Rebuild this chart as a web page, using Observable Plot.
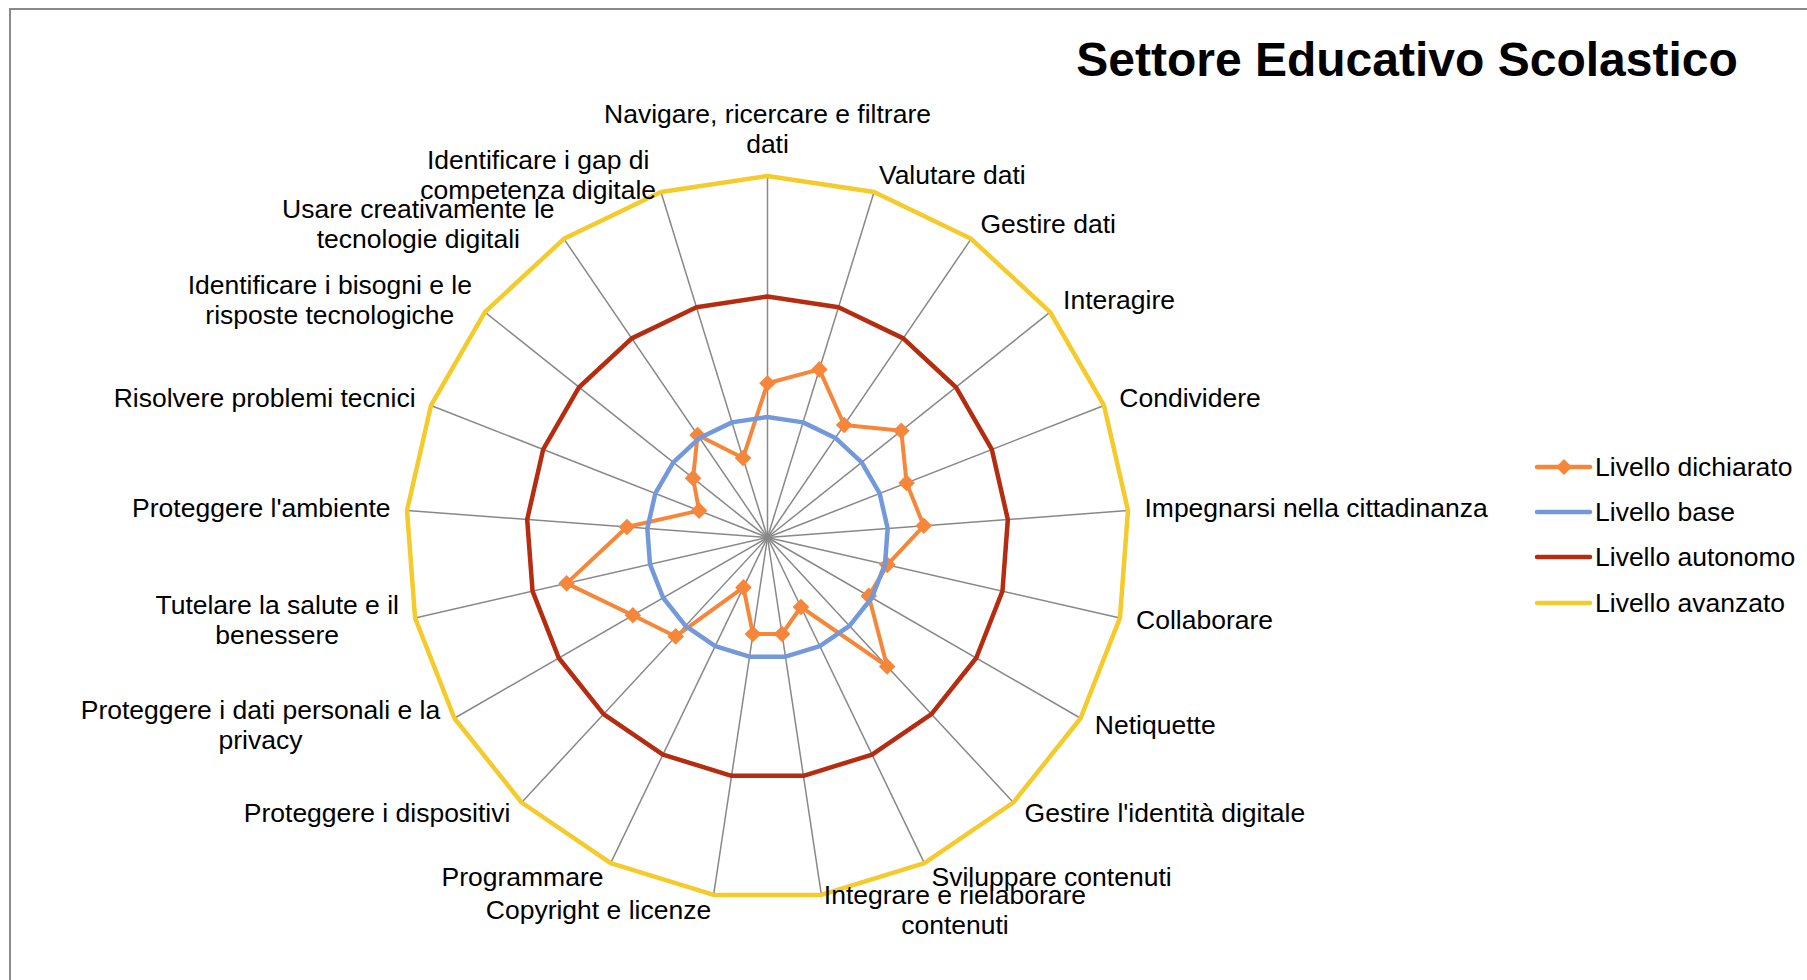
<!DOCTYPE html>
<html>
<head>
<meta charset="utf-8">
<script src="https://cdn.jsdelivr.net/npm/d3@7"></script>
<script src="https://cdn.jsdelivr.net/npm/@observablehq/plot@0.6"></script>
<style>
html, body { margin: 0; padding: 0; background: #fff; }
#wrap { position: relative; width: 1807px; height: 980px; overflow: hidden; font-family: "Liberation Sans", Arial, sans-serif; }
#frame { position: absolute; left: 9px; top: 8px; width: 2000px; height: 1200px; border-top: 2px solid #8a8a8a; border-left: 2px solid #8a8a8a; box-sizing: border-box; }
#chart { position: absolute; left: 0; top: 0; }
#title { position: absolute; left: 1007px; width: 800px; top: 36px; text-align: center; font-size: 48px; line-height: 48px; font-weight: bold; color: #000; white-space: nowrap; }
#legend { position: absolute; left: 1533px; top: 444px; }
.row { display: flex; align-items: center; height: 45.3px; font-size: 26.5px; line-height: 30px; color: #000; white-space: nowrap; }
.row svg { width: 62px; height: 20px; margin-right: 0px; }
</style>
</head>
<body>
<div id="wrap">
  <div id="frame"></div>
  <div id="chart"></div>
  <div id="title"></div>
  <div id="legend"></div>
</div>
<script>
// ---- data ----
const title = "Settore Educativo Scolastico";
const categories = [
  "Navigare, ricercare e filtrare\ndati",
  "Valutare dati",
  "Gestire dati",
  "Interagire",
  "Condividere",
  "Impegnarsi nella cittadinanza",
  "Collaborare",
  "Netiquette",
  "Gestire l'identità digitale",
  "Sviluppare contenuti",
  "Integrare e rielaborare\ncontenuti",
  "Copyright e licenze",
  "Programmare",
  "Proteggere i dispositivi",
  "Proteggere i dati personali e la\nprivacy",
  "Tutelare la salute e il\nbenessere",
  "Proteggere l'ambiente",
  "Risolvere problemi tecnici",
  "Identificare i bisogni e le\nrisposte tecnologiche",
  "Usare creativamente le\ntecnologie digitali",
  "Identificare i gap di\ncompetenza digitale"
];
const seriesNames = ["Livello dichiarato", "Livello base", "Livello autonomo", "Livello avanzato"];
const dichiarato = [1.28, 1.46, 1.13, 1.42, 1.24, 1.30, 1.02, 0.97, 1.46, 0.64, 0.81, 0.81, 0.46, 1.12, 1.29, 1.71, 1.17, 0.61, 0.79, 1.03, 0.69];
const base      = [1, 1, 1, 1, 1, 1, 1, 1, 1, 1, 1, 1, 1, 1, 1, 1, 1, 1, 1, 1, 1];
const autonomo  = [2, 2, 2, 2, 2, 2, 2, 2, 2, 2, 2, 2, 2, 2, 2, 2, 2, 2, 2, 2, 2];
const avanzato  = [3, 3, 3, 3, 3, 3, 3, 3, 3, 3, 3, 3, 3, 3, 3, 3, 3, 3, 3, 3, 3];
const colors = ["#f6873a", "#7399da", "#b52c11", "#f5ca2b"];

// ---- layout ----
const W = 1807, H = 980;
const cx = 767, cy = 537;      // radar centre in pixels
const unitPx = 120.5;          // pixels per level unit
const fontSize = 26.5;
const n = categories.length;
const angle = i => 2 * Math.PI * i / n;

const seriesValues = [dichiarato, base, autonomo, avanzato];
const rows = seriesNames.flatMap((s, k) => seriesValues[k].map((v, i) => ({
  series: s, cat: categories[i], v,
  x: v * Math.sin(angle(i)), y: v * Math.cos(angle(i))
})));
const dRows = rows.filter(d => d.series === seriesNames[0]);
const lRows = rows.filter(d => d.series !== seriesNames[0]);

const R = d3.max(avanzato);
const spokes = categories.map((c, i) => ({cat: c, x0: 0, y0: 0, x: R * Math.sin(angle(i)), y: R * Math.cos(angle(i))}));

const ctx = document.createElement("canvas").getContext("2d");
ctx.font = `${fontSize}px 'Liberation Sans', Arial, sans-serif`;
const labelPad = 16.5 / unitPx;
const labels = categories.map((c, i) => {
  const a = angle(i), s = Math.sin(a), co = Math.cos(a);
  const lines = c.split("\n");
  const w = d3.max(lines, l => ctx.measureText(l).width);
  const side = Math.abs(s) < 1e-6 ? 0 : Math.sign(s);
  const ax = (R + labelPad) * s, ay = (R + labelPad) * co;
  return {text: c, side, multi: lines.length > 1,
          x: ax + (lines.length > 1 ? side * w / 2 / unitPx : 0), y: ay};
});

const textOpts = {x: "x", y: "y", text: "text", fontSize, fill: "#000", lineHeight: 1.13, dy: -2};

const chart = Plot.plot({
  width: W, height: H, margin: 0,
  x: {domain: [-cx / unitPx, (W - cx) / unitPx], range: [0, W], axis: null},
  y: {domain: [-(H - cy) / unitPx, cy / unitPx], range: [H, 0], axis: null},
  color: {domain: seriesNames, range: colors},
  style: {fontFamily: "'Liberation Sans', Arial, sans-serif", background: "transparent", overflow: "visible"},
  marks: [
    Plot.link(spokes, {x1: "x0", y1: "y0", x2: "x", y2: "y", stroke: "#888888", strokeWidth: 1.5}),
    Plot.line(dRows, {x: "x", y: "y", z: "series", stroke: "series", curve: "linear-closed", strokeWidth: 4, strokeLinejoin: "round"}),
    Plot.dot(dRows, {x: "x", y: "y", fill: "series", symbol: "diamond2", r: 7.5, stroke: null}),
    Plot.line(lRows, {x: "x", y: "y", z: "series", stroke: "series", curve: "linear-closed", strokeWidth: 4.5, strokeLinejoin: "miter"}),
    Plot.text(labels.filter(d => d.side === 0), {...textOpts, textAnchor: "middle", lineAnchor: "bottom", dy: -7}),
    Plot.text(labels.filter(d => d.side !== 0 && d.multi), {...textOpts, textAnchor: "middle", lineAnchor: "middle"}),
    Plot.text(labels.filter(d => d.side > 0 && !d.multi), {...textOpts, textAnchor: "start", lineAnchor: "middle"}),
    Plot.text(labels.filter(d => d.side < 0 && !d.multi), {...textOpts, textAnchor: "end", lineAnchor: "middle"})
  ]
});
document.getElementById("chart").appendChild(chart);
document.getElementById("title").textContent = title;

// ---- legend ----
const legend = document.getElementById("legend");
seriesNames.forEach((s, k) => {
  const row = document.createElement("div");
  row.className = "row";
  const marker = k === 0 ? `<path d="M31,2 L39,10 L31,18 L23,10 Z" fill="${colors[k]}"/>` : "";
  row.innerHTML = `<svg viewBox="0 0 62 20"><line x1="4" y1="10" x2="57" y2="10" stroke="${colors[k]}" stroke-width="4.5" stroke-linecap="round"/>${marker}</svg><span>${s}</span>`;
  legend.appendChild(row);
});
</script>
</body>
</html>
